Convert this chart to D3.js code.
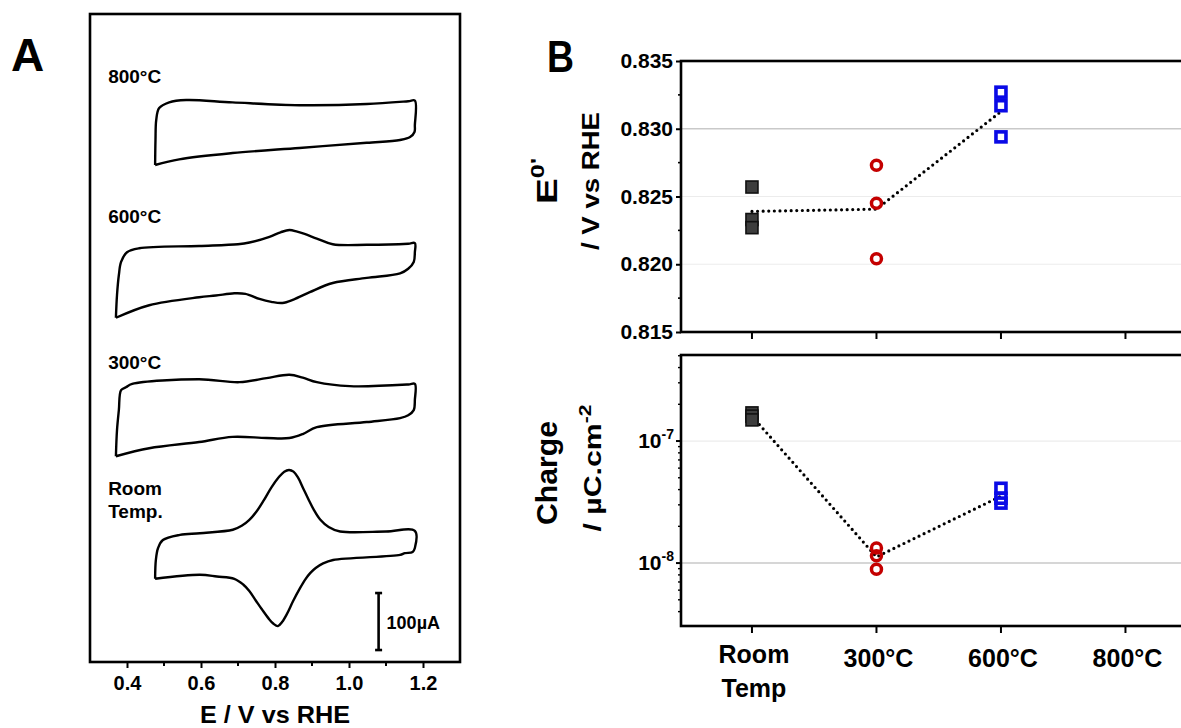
<!DOCTYPE html>
<html><head><meta charset="utf-8">
<script src="https://cdn.jsdelivr.net/npm/d3@7"></script>
<style>
html,body{margin:0;padding:0;background:#fff;}
svg{display:block;}
text{font-family:"Liberation Sans",Arial,Helvetica,sans-serif;font-weight:bold;fill:#000;}
</style>
</head><body>
<svg id="chart" width="1181" height="728"></svg>
<script>
// ---------------- Panel A data : cyclic voltammograms (E / V, I / µA relative) ----------------
const cvNames = ["800°C", "600°C", "300°C", "Room Temp."];
const cvLabelLines = [["800°C"], ["600°C"], ["300°C"], ["Room", "Temp."]];
const cvOffsets = [900, 650, 400, 150];   // vertical stacking offsets, µA
const cv800 = [
  [0.476,-28],[0.477,16],[0.479,51],[0.487,72],[0.514,82],[0.560,86],[0.685,82],[0.866,77],[1.048,79],[1.160,84],[1.178,85],
  [1.178,42],[1.177,30],[1.165,21],[1.138,16],[1.048,11],[0.866,2],[0.685,-7],[0.541,-18],[0.476,-28]
];
const cv600 = [
  [0.370,-46],[0.373,-6],[0.378,29],[0.384,52],[0.400,69],[0.433,76],[0.595,80],[0.700,83],[0.731,86],[0.785,96],[0.815,104],
  [0.839,108],[0.860,105],[0.880,101],[0.913,93],[0.956,83],[1.048,82],[1.160,84],[1.178,85],
  [1.178,69],[1.175,52],[1.160,40],[1.138,32],[1.048,24],[0.956,15],[0.894,-1],[0.850,-14],[0.820,-20],[0.790,-18],
  [0.758,-13],[0.720,-4],[0.690,-3],[0.640,-7],[0.595,-10],[0.460,-24],[0.370,-46]
];
const cv300 = [
  [0.370,-39],[0.373,7],[0.378,42],[0.384,77],[0.397,82],[0.414,88],[0.595,96],[0.704,91],[0.777,98],[0.839,104],
  [0.875,99],[0.913,91],[1.002,84],[1.160,87],[1.178,88],
  [1.178,60],[1.175,42],[1.160,33],[1.138,28],[1.048,21],[0.913,12],[0.875,0],[0.839,-7],[0.777,-7],[0.685,-5],
  [0.595,-14],[0.460,-25],[0.370,-39]
];
const cvRT = [
  [0.476,-4],[0.478,29],[0.484,50],[0.497,64],[0.543,73],[0.597,76],[0.686,82],[0.710,89],[0.730,99],[0.750,114],
  [0.770,134],[0.790,156],[0.810,174],[0.825,184],[0.838,187],[0.850,184],[0.862,174],[0.876,155],[0.890,136],
  [0.905,117],[0.922,100],[0.945,87],[0.976,79],[1.100,79],[1.178,80],
  [1.178,50],[1.172,43],[1.151,41],[1.138,38],[0.957,29],[0.930,23],[0.910,15],[0.895,6],[0.882,-5],[0.868,-20],
  [0.849,-43],[0.832,-66],[0.819,-80],[0.808,-87],[0.796,-83],[0.782,-73],[0.765,-58],[0.748,-42],[0.730,-25],
  [0.714,-14],[0.690,-4],[0.643,0],[0.597,3],[0.476,-4]
];
const cvCurves = [cv800, cv600, cv300, cvRT];
const eTicks = [0.4, 0.6, 0.8, 1.0, 1.2];
const eMinorTicks = [0.5, 0.7, 0.9, 1.1];
const scaleBarValue = 100; // µA

// ---------------- Panel B data ----------------
const categories = ["Room Temp", "300°C", "600°C", "800°C"];
const categoryLabelLines = [["Room", "Temp"], ["300°C"], ["600°C"], ["800°C"]];
const e0RT  = [0.8257, 0.8233, 0.8227];
const e0300 = [0.8273, 0.8245, 0.8204];
const e0600 = [0.8327, 0.8317, 0.8294];
const chargeRT  = [1.70e-7, 1.60e-7, 1.49e-7];
const charge300 = [1.33e-8, 1.15e-8, 0.89e-8];
const charge600 = [4.1e-8, 3.4e-8, 3.1e-8];
const e0Ticks = [0.815, 0.820, 0.825, 0.830, 0.835];
const e0MinorTicks = [0.8175, 0.8225, 0.8275, 0.8325];
const e0GridStrong = [0.830];
const e0GridFaint = [0.820, 0.825];
const chargeTicks = [1e-8, 1e-7];
const chargeGridStrong = [1e-8];
const chargeGridFaint = [1e-7];

// ---------------- drawing ----------------
const svg = d3.select("#chart");
const FONT = '"Liberation Sans",Arial,sans-serif';

// ===== Panel A =====
const xA = d3.scaleLinear().domain([0.3, 1.3]).range([90, 460]);
const yA = d3.scaleLinear().domain([0, 1137]).range([662, 14]);
const gA = svg.append("g");

gA.append("text").attr("x", 11).attr("y", 71).style("font-size", "46px").text("A");

gA.append("rect").attr("x", xA(0.3)).attr("y", yA(1137)).attr("width", xA(1.3) - xA(0.3))
  .attr("height", yA(0) - yA(1137)).attr("fill", "none").attr("stroke", "#000").attr("stroke-width", 2.6);

const axA = d3.axisBottom(xA).tickValues(eTicks).tickFormat(d3.format(".1f")).tickSize(6).tickPadding(8);
const gAx = gA.append("g").attr("transform", `translate(0,${yA(0)})`).call(axA);
gAx.select(".domain").remove();
gAx.selectAll(".tick line").attr("stroke", "#000").attr("stroke-width", 2);
gAx.selectAll(".tick text").style("font-size", "20px").style("font-family", FONT).style("font-weight", "bold").attr("fill", "#000");
gA.append("g").selectAll("line").data(eMinorTicks).join("line")
  .attr("x1", d => xA(d)).attr("x2", d => xA(d)).attr("y1", yA(0)).attr("y2", yA(0) + 4)
  .attr("stroke", "#000").attr("stroke-width", 2);
gA.append("text").attr("x", xA(0.8)).attr("y", 723).attr("text-anchor", "middle")
  .style("font-size", "24px").attr("textLength", 150).attr("lengthAdjust", "spacingAndGlyphs").text("E / V vs RHE");

const cvLine = d3.line().curve(d3.curveCatmullRom.alpha(0.5));
cvCurves.forEach((data, i) => {
  const off = cvOffsets[i];
  gA.append("path")
    .attr("d", cvLine(data.map(d => [xA(d[0]), yA(d[1] + off)])))
    .attr("fill", "none").attr("stroke", "#000").attr("stroke-width", 2.4).attr("stroke-linejoin", "round");
});

const labelRel = [116, 120, 114, 143];
cvLabelLines.forEach((lines, i) => {
  const t = gA.append("text").attr("x", xA(0.349)).attr("y", yA(cvOffsets[i] + labelRel[i]))
    .style("font-size", "19px");
  lines.forEach((ln, j) => t.append("tspan").attr("x", xA(0.349)).attr("dy", j === 0 ? 0 : 23).text(ln));
});

const sbE = 1.08, sbBase = 21;
const sb = gA.append("g").attr("stroke", "#000").attr("stroke-width", 2.6);
sb.append("line").attr("x1", xA(sbE)).attr("x2", xA(sbE)).attr("y1", yA(sbBase)).attr("y2", yA(sbBase + scaleBarValue));
[sbBase, sbBase + scaleBarValue].forEach(v => sb.append("line")
  .attr("x1", xA(sbE) - 3.5).attr("x2", xA(sbE) + 3.5).attr("y1", yA(v)).attr("y2", yA(v)));
gA.append("text").attr("x", xA(sbE) + 8).attr("y", yA(sbBase + scaleBarValue / 2) + 7)
  .style("font-size", "18px").text("100µA");

// ===== Panel B =====
const xB = d3.scaleLinear().domain([-0.57, 3.6]).range([681, 681 + 124.5 * 4.17]);
const yTop = d3.scaleLinear().domain([0.815, 0.835]).range([332, 61]);
const yBot = d3.scaleLog().domain([3.05e-9, 5.07e-7]).range([626, 355]);
const gB = svg.append("g");

gB.append("text").attr("x", 547).attr("y", 72).style("font-size", "44px")
  .attr("textLength", 27).attr("lengthAdjust", "spacingAndGlyphs").text("B");

const xL = xB.range()[0], xR = xB.range()[1];

function panel(y, gridStrong, gridFaint) {
  const g = gB.append("g");
  g.selectAll("line.gf").data(gridFaint).join("line").attr("class", "gf")
    .attr("x1", xL).attr("x2", xR).attr("y1", d => y(d)).attr("y2", d => y(d))
    .attr("stroke", "#ececec").attr("stroke-width", 1.2);
  g.selectAll("line.gs").data(gridStrong).join("line").attr("class", "gs")
    .attr("x1", xL).attr("x2", xR).attr("y1", d => y(d)).attr("y2", d => y(d))
    .attr("stroke", "#c9c9c9").attr("stroke-width", 1.4);
  const [y0, y1] = y.range();
  g.append("rect").attr("x", xL).attr("y", y1).attr("width", xR - xL).attr("height", y0 - y1)
    .attr("fill", "none").attr("stroke", "#000").attr("stroke-width", 2.6);
  g.selectAll("line.ct").data(categories).join("line").attr("class", "ct")
    .attr("x1", (d, i) => xB(i)).attr("x2", (d, i) => xB(i)).attr("y1", y0).attr("y2", y0 + 7)
    .attr("stroke", "#000").attr("stroke-width", 2);
  return g;
}

const gT = panel(yTop, e0GridStrong, e0GridFaint);
const axT = d3.axisLeft(yTop).tickValues(e0Ticks).tickFormat(d3.format(".3f")).tickSize(5).tickPadding(3);
const gTa = gT.append("g").attr("transform", `translate(${xL},0)`).call(axT);
gTa.select(".domain").remove();
gTa.selectAll(".tick line").attr("stroke", "#000").attr("stroke-width", 2);
gTa.selectAll(".tick text").style("font-size", "21px").style("font-family", FONT).style("font-weight", "bold").attr("fill", "#000");
gT.selectAll("line.mt").data(e0MinorTicks).join("line").attr("class", "mt")
  .attr("x1", xL - 3).attr("x2", xL).attr("y1", d => yTop(d)).attr("y2", d => yTop(d))
  .attr("stroke", "#000").attr("stroke-width", 1.6);

const gBt = panel(yBot, chargeGridStrong, chargeGridFaint);
const minorLog = yBot.ticks().filter(t => !chargeTicks.some(c => Math.abs(c - t) / c < 1e-6));
gBt.selectAll("line.mt").data(minorLog).join("line").attr("class", "mt")
  .attr("x1", xL - 3).attr("x2", xL).attr("y1", d => yBot(d)).attr("y2", d => yBot(d))
  .attr("stroke", "#000").attr("stroke-width", 1.4);
gBt.selectAll("line.Mt").data(chargeTicks).join("line").attr("class", "Mt")
  .attr("x1", xL - 5).attr("x2", xL).attr("y1", d => yBot(d)).attr("y2", d => yBot(d))
  .attr("stroke", "#000").attr("stroke-width", 2);
chargeTicks.forEach(t => {
  const tx = gBt.append("text").attr("x", xL - 7).attr("y", yBot(t) + 7).attr("text-anchor", "end")
    .style("font-size", "21px");
  tx.append("tspan").text("10");
  tx.append("tspan").attr("dy", -9).style("font-size", "14px").text("-" + Math.round(-Math.log10(t)));
});

categoryLabelLines.forEach((lines, i) => {
  const t = gB.append("text").attr("x", xB(i) + 2).attr("y", lines.length > 1 ? 663 : 667)
    .attr("text-anchor", "middle").style("font-size", "25px");
  lines.forEach((ln, j) => t.append("tspan").attr("x", xB(i) + 2).attr("dy", j === 0 ? 0 : 34).text(ln));
});

function rotTitle(x, y, size, len, parts) {
  const t = gB.append("text").attr("transform", `translate(${x},${y}) rotate(-90)`)
    .attr("text-anchor", "middle").style("font-size", size + "px");
  if (len) t.attr("textLength", len).attr("lengthAdjust", "spacingAndGlyphs");
  parts.forEach(p => {
    const s = t.append("tspan").text(p.t);
    if (p.sup) s.attr("dy", p.dy).style("font-size", p.size + "px");
  });
  return t;
}
rotTitle(557, 181, 29, 46, [{t: "E"}, {t: "0'", sup: true, dy: -13, size: 19}]);
rotTitle(599, 181, 23, 138, [{t: "/ V vs RHE"}]);
rotTitle(557, 473, 29, 104, [{t: "Charge"}]);
rotTitle(601, 468, 23, 127, [{t: "/ µC.cm"}, {t: "-2", sup: true, dy: -10, size: 16}]);

const meanLine = d3.line();
function drawSeries(g, y, sets) {
  const means = sets.map((s, i) => [xB(i), y(d3.mean(s))]);
  g.append("path").attr("d", meanLine(means)).attr("fill", "none").attr("stroke", "#000")
    .attr("stroke-width", 3.2).attr("stroke-linecap", "round").attr("stroke-dasharray", "0 5.6");
  g.selectAll("rect.rt").data(sets[0]).join("rect").attr("class", "rt")
    .attr("x", xB(0) - 6).attr("y", d => y(d) - 6).attr("width", 12).attr("height", 12)
    .attr("fill", "#3d3d3d").attr("stroke", "#111").attr("stroke-width", 1.6);
  g.selectAll("circle.c3").data(sets[1]).join("circle").attr("class", "c3")
    .attr("cx", xB(1)).attr("cy", d => y(d)).attr("r", 5)
    .attr("fill", "none").attr("stroke", "#c40000").attr("stroke-width", 3.5);
  g.selectAll("rect.c6").data(sets[2]).join("rect").attr("class", "c6")
    .attr("x", xB(2) - 5).attr("y", d => y(d) - 5).attr("width", 10).attr("height", 10)
    .attr("fill", "none").attr("stroke", "#0a0ae6").attr("stroke-width", 3.6);
}
drawSeries(gT, yTop, [e0RT, e0300, e0600]);
drawSeries(gBt, yBot, [chargeRT, charge300, charge600]);
</script>
</body></html>
